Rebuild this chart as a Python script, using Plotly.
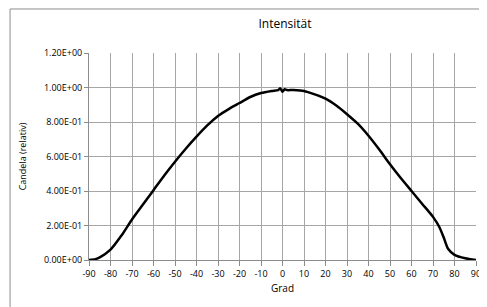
import plotly.graph_objects as go

grad = [-90, -87, -85, -80, -75, -70, -65, -60, -55, -50, -45, -40, -35, -30, -25, -20,
        -15, -10, -5, -2, -1, 0, 1, 2, 5, 10, 15, 20, 25, 30, 35, 40, 45, 50, 55, 60,
        65, 70, 73, 75, 77, 80, 85, 90]
candela = [0.0, 0.005, 0.015, 0.06, 0.14, 0.235, 0.32, 0.405, 0.49, 0.57, 0.645, 0.715,
           0.78, 0.835, 0.875, 0.91, 0.945, 0.968, 0.98, 0.985, 0.995, 0.975, 0.99, 0.985,
           0.985, 0.98, 0.96, 0.935, 0.895, 0.845, 0.79, 0.72, 0.64, 0.555, 0.475, 0.40,
           0.325, 0.25, 0.19, 0.13, 0.065, 0.03, 0.01, 0.0]

y_ticks = [0, 0.2, 0.4, 0.6, 0.8, 1.0, 1.2]
y_labels = ["0.00E+00", "2.00E-01", "4.00E-01", "6.00E-01", "8.00E-01", "1.00E+00", "1.20E+00"]
x_ticks = list(range(-90, 91, 10))

font_family = "Open Sans, Liberation Sans, sans-serif"

# page body has an 8px default margin, so the figure is sized/offset accordingly
W, H = 479, 299

fig = go.Figure()
fig.add_trace(go.Scatter(x=grad, y=candela, mode="lines",
                         line=dict(color="black", width=2.5, shape="spline", smoothing=0.6),
                         showlegend=False, hoverinfo="skip"))

fig.update_layout(
    width=W, height=H,
    margin=dict(l=81, r=6, t=45, b=47),
    paper_bgcolor="white", plot_bgcolor="white",
    font=dict(family=font_family, size=9, color="black"),
    title=dict(text="Intensität", x=(277 / W), xanchor="center", y=1 - 16 / H, yanchor="middle",
               font=dict(size=12, color="black", family=font_family)),
    xaxis=dict(range=[-90, 90], tickvals=x_ticks, ticktext=[str(v) for v in x_ticks],
               showgrid=True, gridcolor="#a6a6a6", gridwidth=1,
               showline=True, linecolor="#8c8c8c", linewidth=1,
               ticks="outside", ticklen=5, tickcolor="#8c8c8c",
               zeroline=False, mirror=False,
               tickfont=dict(size=9)),
    yaxis=dict(range=[0, 1.2], tickvals=y_ticks, ticktext=y_labels,
               showgrid=True, gridcolor="#a6a6a6", gridwidth=1,
               showline=True, linecolor="#8c8c8c", linewidth=1,
               ticks="outside", ticklen=4, tickcolor="#8c8c8c",
               zeroline=False,
               tickfont=dict(size=9)),
    annotations=[
        dict(text="Grad", xref="paper", yref="paper", x=0.5, y=-0.135,
             xanchor="center", yanchor="middle", showarrow=False, font=dict(size=10)),
        dict(text="Candela (relativ)", xref="paper", yref="paper", x=-0.171, y=0.5,
             xanchor="center", yanchor="middle", showarrow=False, textangle=-90,
             font=dict(size=9)),
    ],
    shapes=[dict(type="rect", xref="paper", yref="paper",
                 x0=-0.204, x1=1.2, y0=-0.3, y1=1.2126,
                 line=dict(color="#8c8c8c", width=1), layer="below")],
)

fig.write_html("out.html")
